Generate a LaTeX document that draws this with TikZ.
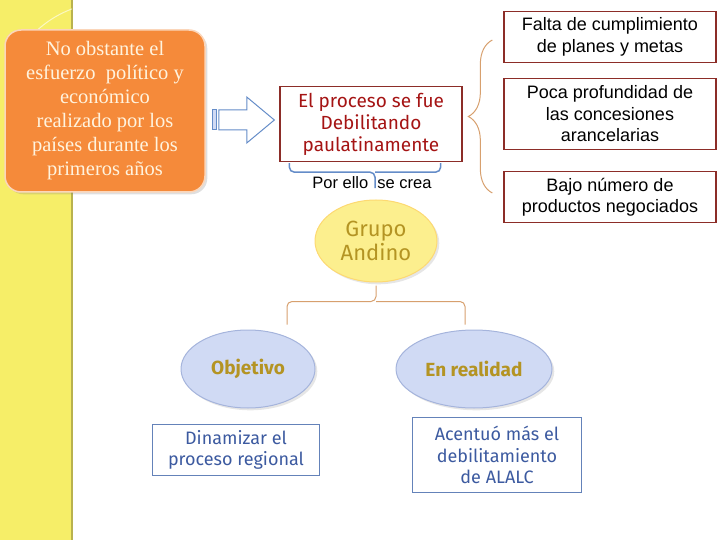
\documentclass[tikz,border=0pt]{standalone}
\usepackage{fontspec}
\setmainfont{Liberation Serif}
\newfontfamily\arialfont{Liberation Sans}
\newfontfamily\comicfont{Fira Sans}
\usepackage{tikz}
\usetikzlibrary{shapes.geometric,decorations.pathreplacing,shadows,calc,positioning}
\definecolor{amarillo}{RGB}{246,238,104}
\definecolor{naranja}{RGB}{245,138,58}
\definecolor{crema}{RGB}{255,243,222}
\definecolor{rojooscuro}{RGB}{140,45,40}
\definecolor{rojotexto}{RGB}{165,20,20}
\definecolor{azulflecha}{RGB}{100,140,200}
\definecolor{tostado}{RGB}{215,160,110}
\definecolor{amarilloelipse}{RGB}{252,239,142}
\definecolor{dorado}{RGB}{180,148,35}
\definecolor{azulclaro}{RGB}{208,218,244}
\definecolor{azulborde}{RGB}{165,180,220}
\definecolor{azulcaja}{RGB}{100,130,185}
\definecolor{azultexto}{RGB}{60,90,160}
\tikzstyle{cajanaranja}=[rectangle, rounded corners=16pt, fill=naranja, draw=naranja!35!white, line width=1.5pt, minimum width=200pt, minimum height=162pt, align=center, text=crema, font=\fontsize{20.5}{24}\selectfont, drop shadow={opacity=0.25}]
\tikzstyle{cajaroja}=[rectangle, draw=rojooscuro, line width=1.3pt, fill=white, align=center, inner sep=0pt, minimum width=212pt, text=black, font=\arialfont\fontsize{18}{21.5}\selectfont]
\tikzstyle{cajaazul}=[rectangle, draw=azulcaja, line width=1.2pt, fill=white, align=center, inner sep=0pt, text=azultexto, font=\comicfont\fontsize{18}{21.5}\selectfont]
\tikzstyle{elipseazul}=[ellipse, fill=azulclaro, draw=azulborde, line width=1pt, minimum height=78pt, text=dorado, font=\comicfont\bfseries\fontsize{19}{22}\selectfont, drop shadow={opacity=0.2}]

\begin{document}
\begin{tikzpicture}[x=1pt,y=-1pt]
            \useasboundingbox (0,0) rectangle (720,540);
            % Fondo
            \fill[amarillo] (0,0) rectangle (72,540);
            \draw[amarillo!75!black, line width=1.5pt] (72,0) -- (72,540);
            \begin{scope}
                \clip (0,0) rectangle (72,540);
                \draw[white, opacity=0.6, line width=1pt] (110,110) ++(200:108) arc (200:256:108);
            \end{scope}
            % Cajas
            \node[cajanaranja] (esfuerzo) at (105,111) {No obstante el\\esfuerzo\ \ político y\\económico\\realizado por los\\países durante los\\primeros años};
            \node[cajaroja, minimum width=182pt, minimum height=75pt, text=rojotexto, font=\comicfont\fontsize{19}{22}\selectfont] (proceso) at (371,124) {El proceso se fue\\Debilitando\\paulatinamente};
            \node[font=\arialfont\fontsize{16.5}{18}\selectfont, inner sep=1pt] (porello) at (372,183) {Por ello\ \ se crea};
            \node[cajaroja, minimum height=51pt] (falta) at (610,37) {Falta de cumplimiento\\de planes y metas};
            \node[cajaroja, minimum height=71pt] (poca) at (610,114) {Poca profundidad de\\las concesiones\\arancelarias};
            \node[cajaroja, minimum height=51pt] (bajo) at (610,197) {Bajo número de\\productos negociados};
            \node[ellipse, fill=amarilloelipse, draw=amarilloelipse!80!orange, line width=1pt, minimum width=122pt, minimum height=82pt, text=dorado, align=center, font=\comicfont\fontsize{22}{24}\selectfont, drop shadow={opacity=0.2}] (grupo) at (376,241) {Grupo\\Andino};
            \node[elipseazul, minimum width=134pt] (objetivo) at (248,369) {Objetivo};
            \node[elipseazul, minimum width=156pt] (realidad) at (474,369) {En realidad};
            \node[cajaazul, minimum width=167pt, minimum height=51pt] (dinamizar) at (236,450) {Dinamizar el\\proceso regional};
            \node[cajaazul, minimum width=169pt, minimum height=75pt] (acentuo) at (497,455) {Acentuó más el\\debilitamiento\\de ALALC};
            % Flecha
            \coordinate (flecha) at ($(esfuerzo.east)+(7,9)$);
            \draw[azulflecha, line width=1pt, fill=azulclaro] ($(flecha)+(0,-10)$) rectangle ($(flecha)+(4,10)$);
            \draw[azulflecha, line width=1pt, fill=white] ($(flecha)+(6,-10)$) -- ++(28,0) -- ++(0,-13) -- ($(proceso.west)+(-5,-4)$) -- ($(flecha)+(34,23)$) -- ++(0,-13) -- ($(flecha)+(6,10)$) -- cycle;
            % Llaves
            \coordinate (picoazul) at ($(proceso.south)+(4,10)$);
            \draw[azulflecha, line width=1.5pt, rounded corners=5pt] ($(proceso.south west)+(10,1)$) |- (picoazul) -- ++(0,16);
            \draw[azulflecha, line width=1.5pt, rounded corners=5pt] ($(proceso.south east)+(-22,1)$) |- (picoazul);
            \draw[tostado, line width=1pt, decorate, decoration={brace, amplitude=24pt}] ($(bajo.west)+(-11,-4)$) -- ($(falta.west)+(-11,3)$);
            \coordinate (pico) at ($(grupo.south)+(0,19)$);
            \draw[tostado, line width=1pt, rounded corners=5pt] ($(objetivo.north)+(39,-5)$) |- (pico) -- ($(grupo.south)+(0,3)$);
            \draw[tostado, line width=1pt, rounded corners=5pt] ($(realidad.north)+(-9,-5)$) |- (pico);
        \end{tikzpicture}
\end{document}
